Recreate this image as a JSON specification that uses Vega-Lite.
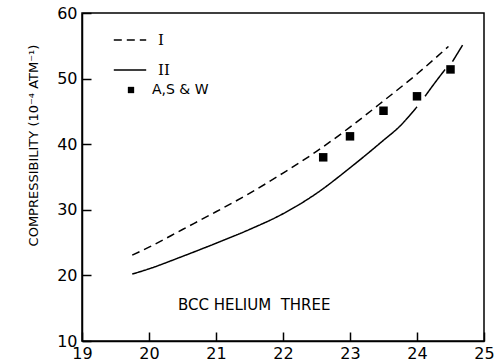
{
  "$schema": "https://vega.github.io/schema/vega-lite/v6.json",
  "autosize": "none",
  "width": 402,
  "height": 328,
  "padding": {"left": 82, "top": 13, "right": 10, "bottom": 22},
  "background": "white",
  "config": {
    "view": {"stroke": "black", "strokeWidth": 1.5},
    "axis": {
      "grid": false,
      "domainColor": "black",
      "domainWidth": 1.5,
      "tickColor": "black",
      "tickWidth": 1.5,
      "labelColor": "black",
      "labelFont": "DejaVu Sans",
      "labelFontSize": 16,
      "titleColor": "black",
      "titleFont": "DejaVu Sans",
      "titleFontWeight": "normal"
    }
  },
  "datasets": {
    "lines": [
      {"curve": "I", "part": "I", "x": 19.75, "y": 23.1},
      {"curve": "I", "part": "I", "x": 20.0, "y": 24.3},
      {"curve": "I", "part": "I", "x": 20.5, "y": 27.0},
      {"curve": "I", "part": "I", "x": 21.0, "y": 29.7},
      {"curve": "I", "part": "I", "x": 21.5, "y": 32.5},
      {"curve": "I", "part": "I", "x": 22.0, "y": 35.6},
      {"curve": "I", "part": "I", "x": 22.5, "y": 38.9},
      {"curve": "I", "part": "I", "x": 23.0, "y": 42.6},
      {"curve": "I", "part": "I", "x": 23.5, "y": 46.6},
      {"curve": "I", "part": "I", "x": 24.0, "y": 50.7},
      {"curve": "I", "part": "I", "x": 24.47, "y": 54.9},
      {"curve": "II", "part": "IIa", "x": 19.75, "y": 20.2},
      {"curve": "II", "part": "IIa", "x": 20.0, "y": 21.0},
      {"curve": "II", "part": "IIa", "x": 20.5, "y": 22.9},
      {"curve": "II", "part": "IIa", "x": 21.0, "y": 24.9},
      {"curve": "II", "part": "IIa", "x": 21.5, "y": 27.0},
      {"curve": "II", "part": "IIa", "x": 22.0, "y": 29.4},
      {"curve": "II", "part": "IIa", "x": 22.5, "y": 32.5},
      {"curve": "II", "part": "IIa", "x": 23.0, "y": 36.4},
      {"curve": "II", "part": "IIa", "x": 23.5, "y": 40.6},
      {"curve": "II", "part": "IIa", "x": 23.75, "y": 42.8},
      {"curve": "II", "part": "IIa", "x": 24.0, "y": 45.7},
      {"curve": "II", "part": "IIb", "x": 24.12, "y": 47.3},
      {"curve": "II", "part": "IIb", "x": 24.27, "y": 49.4},
      {"curve": "II", "part": "IIb", "x": 24.42, "y": 51.4},
      {"curve": "II", "part": "IIc", "x": 24.53, "y": 52.6},
      {"curve": "II", "part": "IIc", "x": 24.68, "y": 55.1}
    ],
    "pts": [
      {"src": "A,S & W", "x": 22.6, "y": 38.0},
      {"src": "A,S & W", "x": 23.0, "y": 41.2},
      {"src": "A,S & W", "x": 23.5, "y": 45.1},
      {"src": "A,S & W", "x": 24.0, "y": 47.3},
      {"src": "A,S & W", "x": 24.5, "y": 51.4}
    ]
  },
  "layer": [
    {
      "data": {"name": "lines"},
      "mark": {"type": "line", "color": "black", "strokeWidth": 1.5, "interpolate": "monotone"},
      "encoding": {
        "x": {
          "field": "x", "type": "quantitative",
          "scale": {"domain": [19, 25], "nice": false, "zero": false},
          "axis": {"values": [19, 20, 21, 22, 23, 24, 25], "format": "d", "tickSize": -9, "labelPadding": 13, "title": null, "labelFlush": false}
        },
        "y": {
          "field": "y", "type": "quantitative",
          "scale": {"domain": [10, 60], "nice": false, "zero": false},
          "axis": {
            "values": [10, 20, 30, 40, 50, 60], "format": "d", "tickSize": -9, "labelPadding": 14, "labelFlush": false,
            "title": "COMPRESSIBILITY (10⁻⁴ ATM⁻¹)",
            "titleFontSize": 13,
            "titleAngle": 270,
            "titleX": -49,
            "titleY": 132,
            "titleAlign": "center",
            "titleBaseline": "middle"
          }
        },
        "detail": {"field": "part"},
        "strokeDash": {
          "field": "curve", "type": "nominal",
          "scale": {"domain": ["I", "II"], "range": [[8, 5], [1, 0]]},
          "legend": {
            "orient": "none", "legendX": 31, "legendY": 10,
            "title": null, "padding": 0,
            "symbolType": "stroke", "symbolSize": 1050, "symbolStrokeWidth": 1.5, "symbolStrokeColor": "black",
            "labelFont": "DejaVu Serif", "labelFontSize": 15, "labelColor": "black", "labelOffset": 11,
            "rowPadding": 5
          }
        }
      }
    },
    {
      "data": {"name": "pts"},
      "mark": {"type": "point", "filled": true, "color": "black", "size": 72, "opacity": 1},
      "encoding": {
        "x": {"field": "x", "type": "quantitative"},
        "y": {"field": "y", "type": "quantitative"},
        "shape": {
          "field": "src", "type": "nominal",
          "scale": {"domain": ["A,S & W"], "range": ["square"]},
          "legend": {
            "orient": "none", "legendX": 42, "legendY": 70,
            "title": null, "padding": 0,
            "symbolSize": 40, "symbolFillColor": "black", "symbolStrokeColor": "black", "symbolOpacity": 1,
            "labelFont": "DejaVu Sans", "labelFontSize": 14, "labelColor": "black", "labelOffset": 14
          }
        }
      }
    },
    {
      "data": {"values": [{}]},
      "mark": {"type": "text", "font": "DejaVu Sans", "fontSize": 15, "color": "black", "align": "center", "baseline": "middle"},
      "encoding": {
        "x": {"datum": 21.57, "type": "quantitative"},
        "y": {"datum": 15.5, "type": "quantitative"},
        "text": {"value": "BCC HELIUM \u00a0THREE"}
      }
    }
  ]
}
